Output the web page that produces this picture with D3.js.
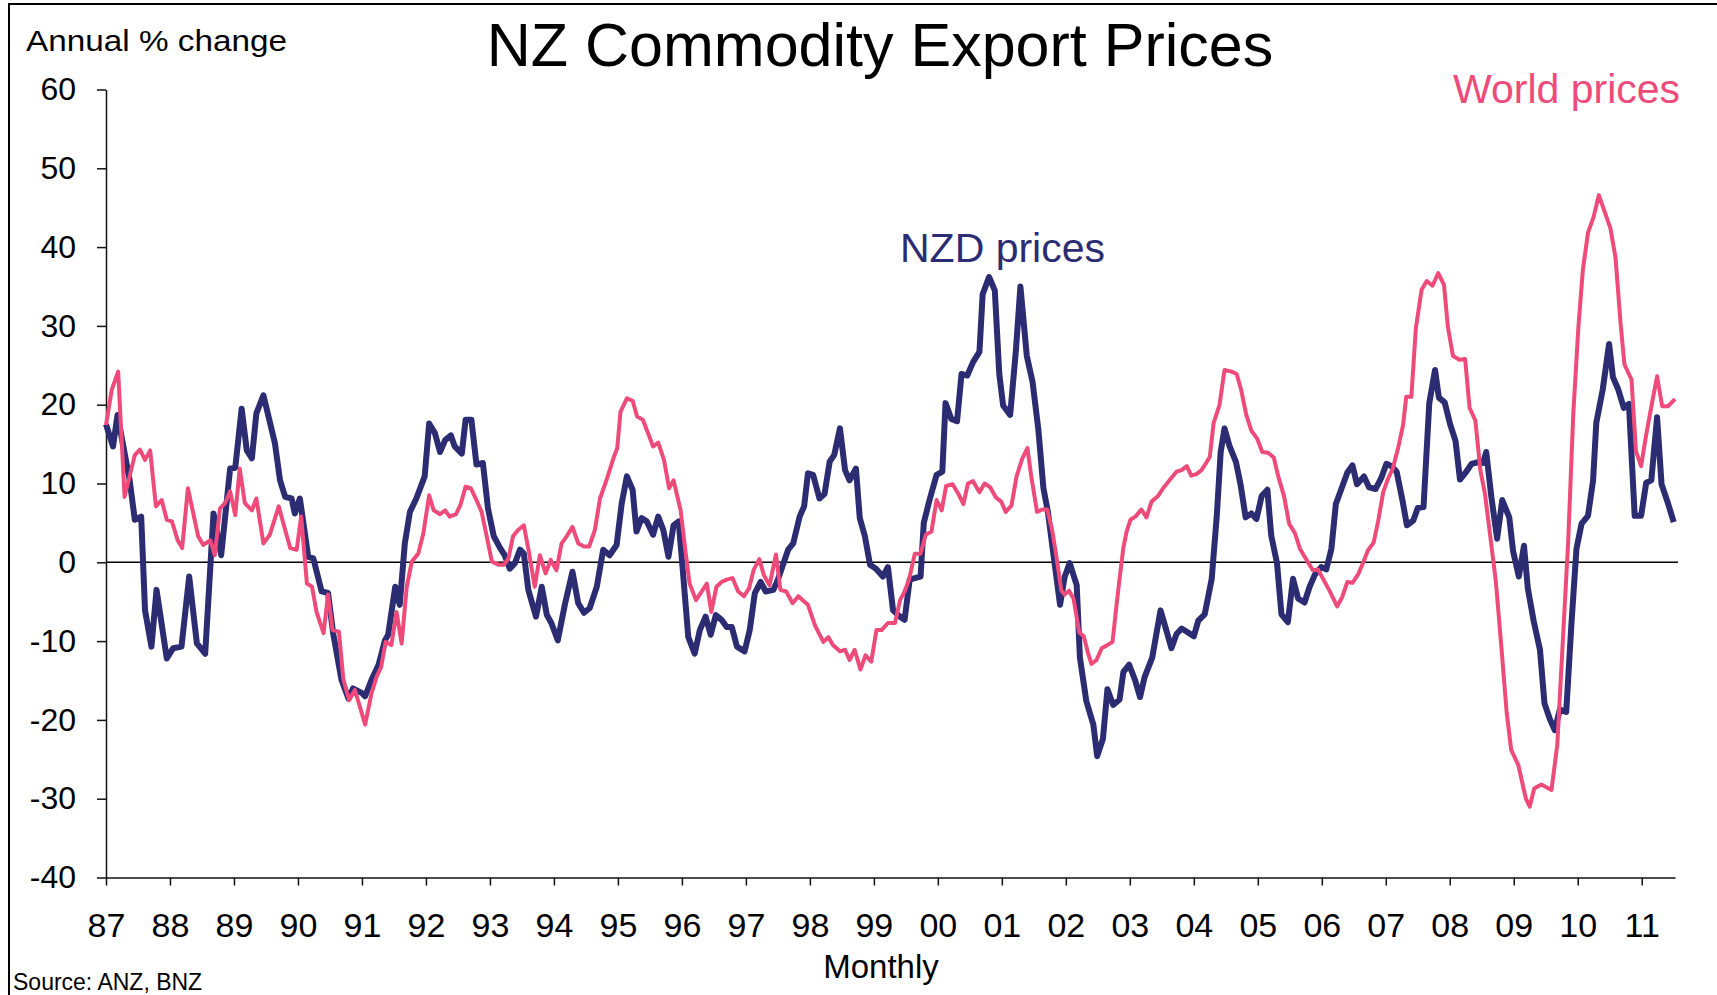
<!DOCTYPE html>
<html>
<head>
<meta charset="utf-8">
<script src="https://cdn.jsdelivr.net/npm/d3@7"></script>
<style>
  body { margin: 0; background: #fff; }
  svg { display: block; font-family: "Liberation Sans", Arial, sans-serif; }
</style>
</head>
<body>
<svg id="chart" width="1717" height="995"></svg>
<script>
// x tick labels, one per January
var yearLabels = ["87","88","89","90","91","92","93","94","95","96","97","98",
                  "99","00","01","02","03","04","05","06","07","08","09","10","11"];
var yTicks = [-40, -30, -20, -10, 0, 10, 20, 30, 40, 50, 60];

// [decimal year, annual % change]
var nzdPrices = [
  [1987.00,17.5],[1987.11,14.7],[1987.18,18.7],[1987.37,10.4],[1987.45,5.4],[1987.55,5.8],
  [1987.61,-6.1],[1987.71,-10.7],[1987.79,-3.5],[1987.95,-12.2],[1988.05,-10.9],[1988.18,-10.7],
  [1988.30,-1.8],[1988.42,-10.3],[1988.55,-11.6],[1988.68,6.2],[1988.80,0.9],[1988.94,11.9],
  [1989.02,12.0],[1989.12,19.5],[1989.20,14.2],[1989.28,13.2],[1989.35,18.9],[1989.46,21.2],
  [1989.64,15.1],[1989.72,10.4],[1989.80,8.3],[1989.90,8.1],[1989.95,6.2],[1990.03,8.1],
  [1990.16,0.7],[1990.24,0.5],[1990.37,-3.7],[1990.47,-3.9],[1990.55,-9.0],[1990.68,-14.9],
  [1990.79,-17.3],[1990.86,-16.0],[1991.00,-16.6],[1991.05,-17.0],[1991.15,-14.9],[1991.26,-13.0],
  [1991.36,-9.9],[1991.41,-9.2],[1991.52,-3.1],[1991.59,-5.4],[1991.67,2.4],[1991.75,6.4],
  [1991.85,8.1],[1991.98,10.9],[1992.05,17.6],[1992.14,16.4],[1992.22,14.0],[1992.30,15.5],
  [1992.39,16.1],[1992.45,14.7],[1992.56,13.8],[1992.62,18.1],[1992.71,18.1],[1992.79,12.4],
  [1992.89,12.6],[1992.97,6.8],[1993.06,3.3],[1993.16,1.8],[1993.23,0.9],[1993.31,-0.8],
  [1993.39,-0.1],[1993.47,1.6],[1993.53,1.1],[1993.60,-3.5],[1993.72,-6.9],[1993.81,-3.1],
  [1993.89,-6.7],[1993.96,-7.7],[1994.06,-9.9],[1994.17,-5.4],[1994.29,-1.2],[1994.38,-5.2],
  [1994.47,-6.4],[1994.56,-5.8],[1994.67,-3.1],[1994.77,1.6],[1994.87,0.9],[1994.98,2.2],
  [1995.06,7.5],[1995.14,10.9],[1995.23,9.2],[1995.29,3.9],[1995.37,5.6],[1995.45,5.2],
  [1995.55,3.5],[1995.63,5.8],[1995.71,4.1],[1995.79,0.7],[1995.87,4.7],[1995.95,5.2],
  [1996.01,-0.6],[1996.10,-9.5],[1996.20,-11.6],[1996.28,-8.6],[1996.37,-6.9],[1996.45,-9.2],
  [1996.53,-6.7],[1996.62,-7.3],[1996.70,-8.2],[1996.78,-8.2],[1996.86,-10.7],[1996.98,-11.3],
  [1997.06,-8.6],[1997.14,-3.9],[1997.23,-2.5],[1997.31,-3.7],[1997.43,-3.5],[1997.50,-2.2],
  [1997.58,-0.3],[1997.66,1.6],[1997.74,2.4],[1997.84,5.8],[1997.91,7.1],[1997.97,11.3],
  [1998.05,11.1],[1998.15,8.1],[1998.23,8.7],[1998.31,12.8],[1998.38,13.6],[1998.47,17.0],
  [1998.55,11.7],[1998.62,10.4],[1998.72,11.9],[1998.78,5.6],[1998.86,3.3],[1998.94,-0.3],
  [1999.03,-0.8],[1999.14,-1.8],[1999.22,-0.6],[1999.30,-6.1],[1999.41,-6.9],[1999.48,-7.3],
  [1999.56,-2.2],[1999.64,-2.0],[1999.73,-1.8],[1999.78,5.0],[1999.87,7.9],[1999.98,11.1],
  [2000.07,11.5],[2000.12,20.2],[2000.21,18.2],[2000.30,17.9],[2000.37,23.9],[2000.46,23.7],
  [2000.55,25.4],[2000.65,26.7],[2000.70,34.0],[2000.80,36.2],[2000.89,34.5],[2000.96,23.9],
  [2001.02,19.9],[2001.13,18.7],[2001.22,26.9],[2001.29,35.0],[2001.39,26.2],[2001.48,22.9],
  [2001.57,16.9],[2001.65,9.4],[2001.72,6.4],[2001.80,1.4],[2001.91,-5.4],[2001.98,-1.9],
  [2002.06,-0.1],[2002.17,-2.9],[2002.22,-12.1],[2002.32,-17.6],[2002.43,-20.6],[2002.49,-24.6],
  [2002.58,-22.4],[2002.65,-16.1],[2002.74,-18.1],[2002.84,-17.4],[2002.90,-13.9],[2002.99,-13.0],
  [2003.08,-14.9],[2003.16,-17.1],[2003.23,-14.6],[2003.35,-12.1],[2003.48,-6.1],[2003.57,-8.6],
  [2003.65,-10.9],[2003.73,-9.1],[2003.81,-8.4],[2003.91,-8.9],[2004.00,-9.4],[2004.07,-7.4],
  [2004.17,-6.6],[2004.28,-2.1],[2004.36,6.0],[2004.42,14.0],[2004.48,17.0],[2004.56,14.7],
  [2004.66,12.7],[2004.73,9.9],[2004.81,5.7],[2004.90,6.2],[2004.98,5.5],[2005.06,8.4],
  [2005.15,9.2],[2005.21,3.4],[2005.30,-0.1],[2005.37,-6.6],[2005.47,-7.6],[2005.55,-2.1],
  [2005.63,-4.6],[2005.73,-5.1],[2005.81,-3.1],[2005.89,-1.6],[2005.99,-0.6],[2006.07,-0.9],
  [2006.15,1.7],[2006.22,7.4],[2006.31,9.4],[2006.40,11.4],[2006.48,12.3],[2006.55,9.9],
  [2006.66,10.9],[2006.74,9.5],[2006.84,9.3],[2006.93,10.7],[2007.01,12.5],[2007.09,12.2],
  [2007.17,11.5],[2007.26,7.9],[2007.33,4.7],[2007.43,5.3],[2007.50,6.9],[2007.59,7.0],
  [2007.68,20.2],[2007.77,24.4],[2007.83,20.9],[2007.92,20.3],[2008.01,17.4],[2008.09,15.4],
  [2008.16,10.5],[2008.25,11.4],[2008.34,12.5],[2008.44,12.7],[2008.52,12.6],[2008.57,14.0],
  [2008.65,8.3],[2008.74,3.0],[2008.82,7.9],[2008.93,5.7],[2008.99,1.4],[2009.08,-1.8],
  [2009.16,2.1],[2009.22,-3.3],[2009.31,-7.4],[2009.41,-11.1],[2009.48,-17.9],[2009.56,-19.8],
  [2009.64,-21.3],[2009.72,-18.7],[2009.82,-19.0],[2009.90,-8.0],[2009.98,1.7],[2010.06,4.9],
  [2010.16,5.9],[2010.24,10.4],[2010.29,17.7],[2010.39,21.9],[2010.49,27.7],[2010.55,23.5],
  [2010.63,22.0],[2010.72,19.6],[2010.80,20.1],[2010.89,5.9],[2010.99,5.9],[2011.07,10.1],
  [2011.15,10.4],[2011.24,18.4],[2011.31,9.9],[2011.41,7.5],[2011.50,5.1]
];

var worldPrices = [
  [1987.00,17.4],[1987.09,21.9],[1987.19,24.2],[1987.29,8.3],[1987.45,13.6],[1987.53,14.3],
  [1987.61,13.0],[1987.69,14.2],[1987.78,7.1],[1987.87,7.9],[1987.95,5.4],[1988.03,5.2],
  [1988.12,2.8],[1988.19,1.8],[1988.28,9.4],[1988.44,3.3],[1988.52,2.2],[1988.63,2.8],
  [1988.70,0.9],[1988.78,6.8],[1988.86,7.5],[1988.94,9.0],[1989.02,6.0],[1989.09,11.9],
  [1989.17,7.5],[1989.28,6.6],[1989.35,8.1],[1989.46,2.4],[1989.56,3.5],[1989.70,7.1],
  [1989.80,4.1],[1989.88,1.8],[1989.98,1.6],[1990.05,5.8],[1990.14,-2.7],[1990.22,-3.1],
  [1990.29,-6.3],[1990.40,-9.0],[1990.47,-4.1],[1990.54,-8.6],[1990.64,-8.8],[1990.71,-14.9],
  [1990.80,-17.5],[1990.89,-16.2],[1991.05,-20.6],[1991.15,-16.6],[1991.23,-14.5],[1991.30,-13.3],
  [1991.37,-10.1],[1991.46,-10.5],[1991.54,-6.3],[1991.62,-10.3],[1991.70,-3.1],[1991.78,0.1],
  [1991.88,1.1],[1991.96,3.7],[1992.05,8.5],[1992.12,6.6],[1992.22,6.1],[1992.30,6.6],
  [1992.37,5.8],[1992.47,6.1],[1992.54,7.3],[1992.62,9.6],[1992.70,9.4],[1992.79,7.9],
  [1992.87,6.4],[1992.95,3.3],[1993.03,0.1],[1993.13,-0.3],[1993.22,-0.3],[1993.29,0.5],
  [1993.36,3.3],[1993.44,4.1],[1993.53,4.7],[1993.61,1.3],[1993.70,-3.1],[1993.78,0.9],
  [1993.87,-1.4],[1993.95,0.3],[1994.04,-1.0],[1994.12,2.4],[1994.20,3.3],[1994.29,4.5],
  [1994.38,2.4],[1994.47,2.0],[1994.55,2.0],[1994.64,4.1],[1994.72,8.1],[1994.82,10.4],
  [1994.93,13.2],[1994.99,14.5],[1995.04,19.1],[1995.14,20.8],[1995.23,20.5],[1995.30,18.5],
  [1995.39,18.1],[1995.47,16.4],[1995.55,14.7],[1995.63,15.2],[1995.72,13.0],[1995.80,9.4],
  [1995.87,10.4],[1995.98,6.6],[1996.05,1.8],[1996.12,-2.7],[1996.22,-4.8],[1996.31,-3.7],
  [1996.39,-2.7],[1996.46,-6.3],[1996.54,-3.1],[1996.62,-2.5],[1996.70,-2.2],[1996.79,-2.0],
  [1996.88,-3.7],[1996.97,-4.3],[1997.05,-3.3],[1997.12,-1.0],[1997.21,0.4],[1997.28,-1.6],
  [1997.37,-2.9],[1997.47,1.0],[1997.54,-3.5],[1997.63,-3.7],[1997.73,-5.2],[1997.82,-4.3],
  [1997.90,-4.9],[1997.97,-5.4],[1998.08,-8.0],[1998.21,-10.1],[1998.29,-9.5],[1998.36,-10.5],
  [1998.47,-11.3],[1998.55,-11.1],[1998.62,-12.4],[1998.70,-11.1],[1998.79,-13.6],[1998.87,-11.8],
  [1998.96,-12.6],[1999.04,-8.6],[1999.12,-8.6],[1999.22,-7.7],[1999.33,-7.7],[1999.41,-4.8],
  [1999.48,-3.7],[1999.55,-2.2],[1999.64,1.1],[1999.73,1.1],[1999.81,3.5],[1999.90,3.9],
  [1999.98,7.9],[2000.06,6.6],[2000.13,9.7],[2000.23,9.9],[2000.32,8.7],[2000.40,7.4],
  [2000.47,10.0],[2000.55,10.3],[2000.65,8.9],[2000.73,10.0],[2000.82,9.5],[2000.91,8.2],
  [2000.99,7.7],[2001.06,6.4],[2001.15,7.2],[2001.23,10.9],[2001.32,13.2],[2001.40,14.5],
  [2001.46,10.9],[2001.55,6.4],[2001.63,6.7],[2001.71,6.7],[2001.79,3.9],[2001.85,0.9],
  [2001.93,-3.6],[2001.98,-4.1],[2002.05,-3.6],[2002.12,-4.6],[2002.21,-8.9],[2002.28,-9.4],
  [2002.35,-11.6],[2002.40,-12.9],[2002.48,-12.4],[2002.56,-10.9],[2002.63,-10.6],[2002.73,-10.1],
  [2002.79,-5.6],[2002.84,-2.1],[2002.90,1.9],[2002.95,3.9],[2003.01,5.4],[2003.10,5.9],
  [2003.18,6.7],[2003.26,5.7],[2003.34,7.7],[2003.44,8.4],[2003.52,9.4],[2003.62,10.4],
  [2003.73,11.5],[2003.81,11.7],[2003.89,12.2],[2003.96,11.0],[2004.04,11.2],[2004.12,11.7],
  [2004.20,12.7],[2004.25,13.4],[2004.31,17.7],[2004.40,19.9],[2004.48,24.4],[2004.59,24.2],
  [2004.67,23.9],[2004.74,21.9],[2004.82,18.7],[2004.90,16.7],[2004.99,15.7],[2005.07,14.0],
  [2005.16,13.9],[2005.25,13.3],[2005.32,10.9],[2005.41,8.4],[2005.49,4.9],[2005.58,3.7],
  [2005.66,1.7],[2005.77,0.2],[2005.86,-1.0],[2005.94,-0.9],[2006.02,-2.1],[2006.12,-3.6],
  [2006.24,-5.6],[2006.32,-4.4],[2006.40,-2.5],[2006.48,-2.6],[2006.57,-1.5],[2006.65,0.0],
  [2006.72,1.5],[2006.81,2.5],[2006.88,5.2],[2006.96,8.9],[2007.04,10.7],[2007.11,11.9],
  [2007.19,14.4],[2007.27,17.4],[2007.32,21.0],[2007.40,21.0],[2007.47,29.7],[2007.56,34.6],
  [2007.64,35.7],[2007.73,35.1],[2007.82,36.7],[2007.91,35.2],[2007.97,29.9],[2008.05,26.2],
  [2008.15,25.7],[2008.24,25.8],[2008.31,19.6],[2008.40,18.0],[2008.48,11.6],[2008.55,8.7],
  [2008.63,3.5],[2008.72,-2.4],[2008.80,-10.1],[2008.89,-19.1],[2008.96,-23.8],[2009.07,-25.7],
  [2009.19,-30.0],[2009.25,-31.0],[2009.32,-28.7],[2009.43,-28.2],[2009.59,-28.9],[2009.68,-23.2],
  [2009.77,-9.5],[2009.85,2.5],[2009.93,18.8],[2010.01,29.8],[2010.08,37.1],[2010.16,41.8],
  [2010.25,43.9],[2010.33,46.6],[2010.42,44.5],[2010.51,42.4],[2010.59,38.7],[2010.67,30.3],
  [2010.73,25.1],[2010.84,23.2],[2010.91,14.1],[2010.99,12.2],[2011.07,16.2],[2011.17,20.6],
  [2011.24,23.6],[2011.32,19.8],[2011.41,19.8],[2011.52,20.7]
];

var nzdColor = "#2b2c72";
var worldColor = "#ee4b7b";

var svg = d3.select("#chart");

var x = d3.scaleLinear().domain([1987, 2011.52]).range([106, 1675]);
var y = d3.scaleLinear().domain([-40, 60]).range([877.5, 89.5]);

// frame (only left and top edges show in the picture)
svg.append("path")
    .attr("d", "M9,995 L9,4 L1717,4")
    .attr("fill", "none")
    .attr("stroke", "#000")
    .attr("stroke-width", 2);

// y axis
var yAxis = d3.axisLeft(y)
    .tickValues(yTicks)
    .tickFormat(function(d) { return String(d); })
    .tickSize(9)
    .tickSizeOuter(0)
    .tickPadding(21);
var gy = svg.append("g")
    .attr("transform", "translate(106,0)")
    .call(yAxis);
gy.select(".domain").attr("stroke", "#111").attr("stroke-width", 1.5);
gy.selectAll(".tick line").attr("stroke", "#111").attr("stroke-width", 1.5);
gy.selectAll("text")
    .attr("font-size", 32)
    .attr("fill", "#000")
    .attr("font-family", "Liberation Sans, Arial, sans-serif");

// x axis
var xAxis = d3.axisBottom(x)
    .tickValues(d3.range(1987, 2012))
    .tickFormat(function(d, i) { return yearLabels[i]; })
    .tickSize(8)
    .tickSizeOuter(0);
var gx = svg.append("g")
    .attr("transform", "translate(0," + y(-40) + ")")
    .call(xAxis);
gx.select(".domain").attr("stroke", "#111").attr("stroke-width", 1.5);
gx.selectAll(".tick line").attr("stroke", "#111").attr("stroke-width", 1.5);
gx.selectAll("text")
    .attr("dy", null)
    .attr("y", 59)
    .attr("font-size", 34)
    .attr("fill", "#000")
    .attr("font-family", "Liberation Sans, Arial, sans-serif");

// zero line
svg.append("line")
    .attr("x1", x(1987)).attr("x2", x(2011.52) + 3)
    .attr("y1", y(0)).attr("y2", y(0))
    .attr("stroke", "#000")
    .attr("stroke-width", 1.5);

var line = d3.line()
    .x(function(d) { return x(d[0]); })
    .y(function(d) { return y(d[1]); });

svg.append("path")
    .attr("d", line(nzdPrices))
    .attr("fill", "none")
    .attr("stroke", nzdColor)
    .attr("stroke-width", 6)
    .attr("stroke-linejoin", "round");

svg.append("path")
    .attr("d", line(worldPrices))
    .attr("fill", "none")
    .attr("stroke", worldColor)
    .attr("stroke-width", 4)
    .attr("stroke-linejoin", "round");

// texts
svg.append("text")
    .attr("x", 880).attr("y", 66)
    .attr("text-anchor", "middle")
    .attr("font-size", 61)
    .attr("fill", "#000")
    .text("NZ Commodity Export Prices");

svg.append("text")
    .attr("x", 26).attr("y", 51)
    .attr("font-size", 30)
    .attr("textLength", 261)
    .attr("lengthAdjust", "spacingAndGlyphs")
    .attr("fill", "#000")
    .text("Annual % change");

svg.append("text")
    .attr("x", 900).attr("y", 262)
    .attr("font-size", 41)
    .attr("fill", nzdColor)
    .text("NZD prices");

svg.append("text")
    .attr("x", 1453).attr("y", 103)
    .attr("font-size", 41)
    .attr("fill", worldColor)
    .text("World prices");

svg.append("text")
    .attr("x", 881).attr("y", 978)
    .attr("text-anchor", "middle")
    .attr("font-size", 33)
    .attr("fill", "#000")
    .text("Monthly");

svg.append("text")
    .attr("x", 13).attr("y", 990)
    .attr("font-size", 23)
    .attr("fill", "#000")
    .text("Source: ANZ, BNZ");
</script>
</body>
</html>
